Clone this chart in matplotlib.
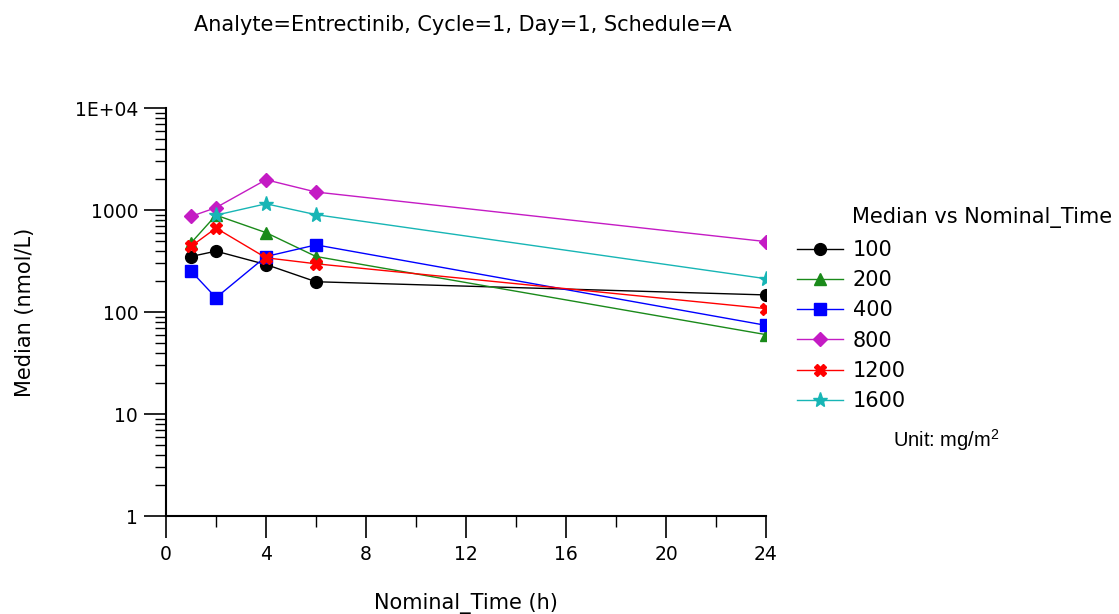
import numpy as np
import matplotlib
matplotlib.use("Agg")
import matplotlib.pyplot as plt
from matplotlib.ticker import FixedLocator, LogLocator, NullFormatter

# Median concentration (nmol/L) by dose level (mg/m^2) over nominal time (h)
times = [1, 2, 4, 6, 24]
doses = ["100", "200", "400", "800", "1200", "1600"]
median_100 = [350, 395, 292, 198, 147]
median_200 = [475, 890, 600, 350, 60]
median_400 = [252, 138, 350, 455, 74]
median_800 = [865, 1055, 1980, 1500, 490]
median_1200 = [440, 665, 340, 297, 108]
median_1600 = [np.nan, 890, 1150, 900, 212]

series = [median_100, median_200, median_400, median_800, median_1200, median_1600]
colors = ["#000000", "#1A8A1A", "#0000FF", "#C41BC4", "#FF0000", "#17B5B5"]
markers = ["o", "^", "s", "D", "X", "*"]
msizes = [8.5, 8.5, 8.5, 7, 8.5, 11]

plt.rcParams["font.family"] = ["DejaVu Sans"]
plt.rcParams["mathtext.default"] = "regular"

fig = plt.figure(figsize=(11.19, 6.14), dpi=100)
W, H = 1119, 614
ax = fig.add_axes([166 / W, 1 - 516 / H, 600 / W, 408 / H])

handles = []
for vals, c, m, ms, lab in zip(series, colors, markers, msizes, doses):
    h, = ax.plot(times, vals, color=c, marker=m, markersize=ms, linewidth=1,
                 markeredgecolor=c, label=lab)
    handles.append(h)

ax.set_yscale("log")
ax.set_xlim(0, 24)
ax.set_ylim(1, 1e4)
ax.xaxis.set_major_locator(FixedLocator([0, 4, 8, 12, 16, 20, 24]))
ax.xaxis.set_minor_locator(FixedLocator([2, 6, 10, 14, 18, 22]))
ax.yaxis.set_major_locator(FixedLocator([1, 10, 100, 1000, 10000]))
ax.set_yticklabels(["1", "10", "100", "1000", "1E+04"])
ax.yaxis.set_minor_locator(LogLocator(base=10, subs=np.arange(2, 10)))
ax.yaxis.set_minor_formatter(NullFormatter())

for side in ("top", "right"):
    ax.spines[side].set_visible(False)
for side in ("left", "bottom"):
    ax.spines[side].set_linewidth(1.5)

ax.tick_params(which="major", direction="out", length=16, width=1.2,
               labelsize=13.5, pad=4)
ax.tick_params(which="minor", direction="out", length=8, width=1.0)
ax.tick_params(axis="x", which="major", pad=5)

ax.set_xlabel("Nominal_Time (h)", fontsize=15, labelpad=21)
ax.set_ylabel("Median (nmol/L)", fontsize=15, labelpad=29)

fig.text(463 / W, 1 - 25 / H, "Analyte=Entrectinib, Cycle=1, Day=1, Schedule=A",
         ha="center", va="center", fontsize=15)

fig.text(852 / W, 1 - 218 / H, "Median vs Nominal_Time",
         ha="left", va="center", fontsize=15)
leg = fig.legend(handles=handles, loc="upper left",
                 bbox_to_anchor=(797 / W, 1 - 240 / H), frameon=False,
                 fontsize=15, handlelength=2.2, handletextpad=0.48,
                 labelspacing=0.49, borderpad=0, borderaxespad=0)

fig.text(893 / W, 1 - 440 / H, "Unit: mg/m$^2$", ha="left", va="center",
         fontsize=14.5, family="Liberation Sans")

fig.savefig("out.png", dpi=100)
